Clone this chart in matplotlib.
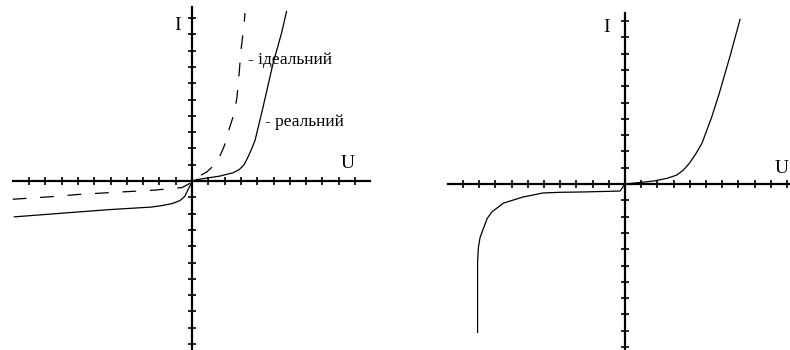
import matplotlib
matplotlib.use("Agg")
import matplotlib.pyplot as plt

# Left panel: ideal (dashed) and real (solid) diode characteristics
ideal_u = [-11.0, -8.6, -6.9, -4.3, -2.3, -0.6, -0.15, 0.0, 0.4, 0.9, 1.5, 1.7, 2.0,
           2.3, 2.6, 2.76, 2.9, 3.0, 3.2, 3.25]
ideal_i = [-1.12, -0.96, -0.82, -0.67, -0.56, -0.4, -0.15, 0.0, 0.28, 0.55, 1.1, 1.5, 2.2,
           3.25, 4.2, 5.15, 6.7, 8.0, 9.6, 10.3]

real_u = [-10.9, -8.3, -5.0, -2.5, -1.8, -1.2, -0.74, -0.45, -0.25, -0.1, 0.0, 0.3,
          0.9, 1.7, 2.5, 2.9, 3.2, 3.45, 3.65, 3.87, 4.36, 4.97, 5.5, 5.8]
real_i = [-2.2, -2.0, -1.75, -1.6, -1.5, -1.38, -1.2, -0.95, -0.55, -0.25, 0.0, 0.08,
          0.18, 0.3, 0.5, 0.7, 1.0, 1.5, 1.95, 2.5, 4.54, 7.2, 9.1, 10.4]

# Right panel: characteristic with reverse breakdown
brk_u = [-9.1, -9.1, -9.05, -8.95, -8.77, -8.5, -8.2, -7.5, -6.3, -5.06, -4.0, -2.65,
         -1.0, -0.3, 0.0, 0.8, 1.75, 2.6, 3.2, 3.6, 4.0, 4.4, 4.75, 5.35, 5.8, 6.5, 7.1]
brk_i = [-9.1, -4.8, -3.9, -3.3, -2.8, -2.1, -1.7, -1.17, -0.8, -0.55, -0.51, -0.49,
         -0.45, -0.43, 0.0, 0.08, 0.18, 0.35, 0.55, 0.85, 1.3, 1.9, 2.5, 4.1, 5.5, 7.9, 10.1]

tick_vals = [t for t in range(-10, 11) if t != 0]

W, H = 790, 350
fig = plt.figure(figsize=(W / 100, H / 100), dpi=100)
fig.patch.set_facecolor("white")

SERIF = ["Liberation Serif", "DejaVu Serif"]


def make_axes(px0, px1, ox, oy, scale_x, scale_y, xbounds, ybounds):
    # axes spanning a pixel strip, origin at (ox, oy) px, one tick step = scale px
    ax = fig.add_axes([px0 / W, 0, (px1 - px0) / W, 1])
    ax.set_xlim((px0 - ox) / scale_x, (px1 - ox) / scale_x)
    ax.set_ylim((oy - H) / scale_y, oy / scale_y)
    ax.patch.set_alpha(0)
    for side in ("top", "right"):
        ax.spines[side].set_visible(False)
    ax.spines["left"].set_position(("data", 0))
    ax.spines["bottom"].set_position(("data", 0))
    ax.spines["bottom"].set_bounds(*xbounds)
    ax.spines["left"].set_bounds(*ybounds)
    for sp in ("left", "bottom"):
        ax.spines[sp].set_linewidth(1.6)
        ax.spines[sp].set_color("black")
    ax.set_xticks(tick_vals)
    ax.set_yticks(tick_vals)
    ax.tick_params(direction="inout", length=6, width=1.2, color="black",
                   labelbottom=False, labelleft=False)
    return ax


ax1 = make_axes(0, 392, 192, 181, 16.3, 16.3, (-11.0, 10.9), (-10.5, 10.7))
ax1.plot(ideal_u, ideal_i, color="black", lw=0.9, linestyle=(0, (11, 11)))
ax1.plot(real_u, real_i, color="black", lw=0.9)
ax1.text(3.45, 7.42, "- ідеальний", family=SERIF, fontsize=12.5, va="center", ha="left")
ax1.text(4.48, 3.62, "- реальний", family=SERIF, fontsize=12.5, va="center", ha="left")
ax1.text(9.57, 1.10, "U", family=SERIF, fontsize=14, va="center", ha="center")
ax1.text(-0.86, 9.57, "I", family=SERIF, fontsize=14, va="center", ha="center")

ax2 = make_axes(395, 790, 625, 184, 16.2, 16.3, (-10.9, 10.3), (-10.3, 10.5))
ax2.plot(brk_u, brk_i, color="black", lw=0.9)
ax2.text(9.69, 0.98, "U", family=SERIF, fontsize=14, va="center", ha="center")
ax2.text(-1.11, 9.63, "I", family=SERIF, fontsize=14, va="center", ha="center")

fig.savefig("out.png", dpi=100, facecolor="white")
